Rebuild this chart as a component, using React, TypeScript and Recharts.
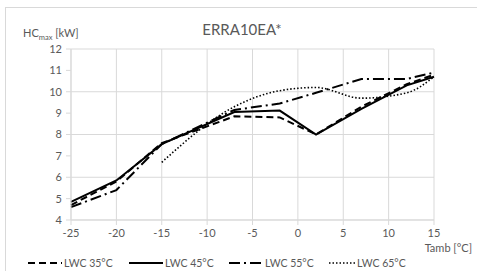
import React from "react";
import { LineChart, Line, XAxis, YAxis, CartesianGrid } from "recharts";

const temps = [-25, -20, -15, -7, -2, 2, 7, 12, 15];
const lwc35 = [4.7, 5.8, 7.6, 8.85, 8.8, 8.0, 9.3, 10.35, 10.8];
const lwc45 = [4.85, 5.85, 7.55, 9.05, 9.12, 8.0, 9.2, 10.3, 10.7];
const lwc55 = [4.6, 5.4, 7.55, 9.15, 9.45, 9.95, 10.6, 10.6, 10.9];
const lwc65 = [null, null, 6.7, 9.3, 10.05, 10.2, 9.7, 9.95, 10.7];

const xTicks = [-25, -20, -15, -10, -5, 0, 5, 10, 15];
const yTicks = [4, 5, 6, 7, 8, 9, 10, 11, 12];

const seriesNames = ["LWC 35°C", "LWC 45°C", "LWC 55°C", "LWC 65°C"];

const data = temps.map((t, i) => ({
  t,
  s35: lwc35[i],
  s45: lwc45[i],
  s55: lwc55[i],
  s65: lwc65[i],
}));

const grid = "#d9d9d9";
const txt = "#595959";
const font = "Lato, 'Noto Sans', sans-serif";

const dash = {
  s35: "7 4",
  s45: undefined as string | undefined,
  s55: "11 4 2 4",
  s65: "1.5 2",
};

export default function App() {
  const tickStyle = { fontSize: 11, fill: txt, fontFamily: font };
  return (
    <div style={{ position: "fixed", left: 0, top: 0, width: 477, height: 271, background: "#fff", overflow: "hidden" }}>
      <div style={{ position: "absolute", left: 5, top: 7, width: 480, height: 280, borderLeft: `1px solid ${grid}`, borderTop: `1px solid ${grid}` }} />
      <LineChart width={477} height={271} data={data} margin={{ top: 49, right: 43, left: 0, bottom: 0 }}>
        <CartesianGrid stroke={grid} strokeWidth={1} />
        <XAxis
          dataKey="t"
          type="number"
          domain={[-25, 15]}
          ticks={xTicks}
          height={51}
          tickSize={5}
          tickMargin={4}
          stroke={grid}
          tick={tickStyle}
        />
        <YAxis
          type="number"
          domain={[4, 12]}
          ticks={yTicks}
          width={71}
          tickSize={5}
          tickMargin={4}
          stroke={grid}
          tick={tickStyle}
        />
        <Line dataKey="s35" type="linear" stroke="#000" strokeWidth={2} strokeDasharray={dash.s35} dot={false} isAnimationActive={false} />
        <Line dataKey="s45" type="linear" stroke="#000" strokeWidth={2} dot={false} isAnimationActive={false} />
        <Line dataKey="s55" type="linear" stroke="#000" strokeWidth={2} strokeDasharray={dash.s55} dot={false} isAnimationActive={false} />
        <Line dataKey="s65" type="monotone" stroke="#000" strokeWidth={1.6} strokeDasharray={dash.s65} dot={false} isAnimationActive={false} />
      </LineChart>
      <svg width={477} height={271} style={{ position: "absolute", left: 0, top: 0, pointerEvents: "none" }} fontFamily={font}>
        <text x={242} y={35} textAnchor="middle" fontSize={15} fill={txt}>ERRA10EA*</text>
        <text x={23} y={37} fontSize={11} fill={txt}>
          HC<tspan fontSize={7.5} dy={3}>max</tspan><tspan dy={-3}> [kW]</tspan>
        </text>
        <text x={472} y={252} textAnchor="end" fontSize={11} fill={txt}>Tamb [°C]</text>
        {[
          { k: "s35", x: 28, w: 34, sw: 2 },
          { k: "s45", x: 129, w: 34, sw: 2 },
          { k: "s55", x: 229, w: 34, sw: 2 },
          { k: "s65", x: 329, w: 26, sw: 1.6 },
        ].map((l, i) => (
          <g key={l.k}>
            <line x1={l.x} x2={l.x + l.w} y1={263} y2={263} stroke="#000" strokeWidth={l.sw} strokeDasharray={dash[l.k as keyof typeof dash]} />
            <text x={l.x + l.w + 2} y={267} fontSize={10.5} fill={txt}>{seriesNames[i]}</text>
          </g>
        ))}
      </svg>
    </div>
  );
}
